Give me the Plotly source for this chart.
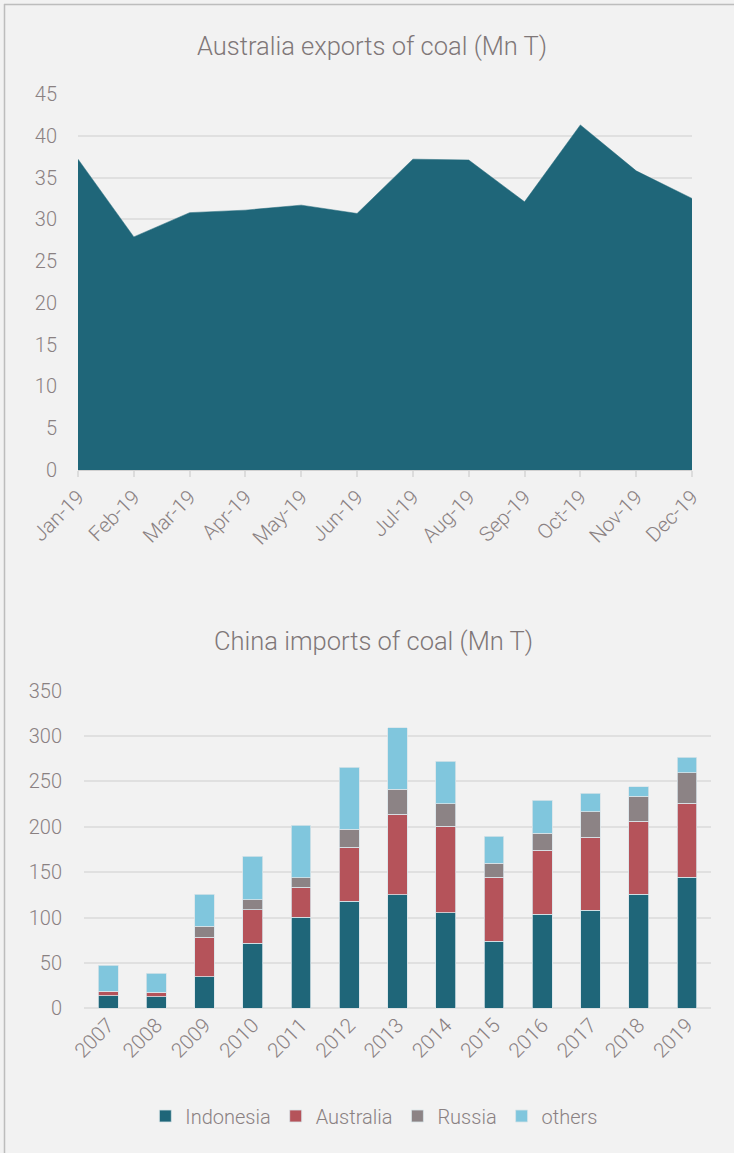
import plotly.graph_objects as go

# ---- data ----
months = ["Jan-19", "Feb-19", "Mar-19", "Apr-19", "May-19", "Jun-19",
          "Jul-19", "Aug-19", "Sep-19", "Oct-19", "Nov-19", "Dec-19"]
aus_exports = [37.2, 27.9, 30.8, 31.1, 31.7, 30.7, 37.2, 37.1, 32.1, 41.3, 35.8, 32.5]

years = ["2007", "2008", "2009", "2010", "2011", "2012", "2013",
         "2014", "2015", "2016", "2017", "2018", "2019"]
indonesia = [13.9, 12.8, 34.8, 71.6, 100.2, 117.9, 125.2, 105.3, 73.8, 103.5, 108.3, 125.6, 144.3]
australia = [4.4, 4.4, 43.7, 37.1, 33.1, 59.5, 88.5, 95.2, 70.5, 70.6, 80.1, 80.4, 81.5]
russia = [0.5, 0.5, 12.2, 11.0, 10.6, 20.1, 27.6, 24.9, 15.8, 18.7, 28.2, 27.5, 33.7]
others = [28.9, 20.9, 34.9, 47.7, 57.7, 68.3, 67.8, 46.7, 29.7, 36.3, 20.2, 10.6, 17.3]

series_names = ["Indonesia", "Australia", "Russia", "others"]
series_colors = ["#1f6679", "#b5535a", "#8c8385", "#80c6dd"]

W, H = 734, 1153
BG = "#f2f2f2"
TXT = "#8a8182"
GRID = "#e0e0e0"
FONT = "Roboto"
WT = 300


def px_x(p):
    return p / W


def px_y(p):
    return 1 - p / H


fig = go.Figure()

fig.add_trace(go.Scatter(
    x=months, y=aus_exports, mode="lines", fill="tozeroy",
    line=dict(color="#1f6679", width=0.5), fillcolor="#1f6679",
    showlegend=False, xaxis="x", yaxis="y", hoverinfo="x+y"))

for name, vals, col in zip(series_names, [indonesia, australia, russia, others], series_colors):
    fig.add_trace(go.Bar(
        x=years, y=vals, name=name, marker=dict(color=col, line=dict(color="#d8e4e8", width=0.8)),
        xaxis="x2", yaxis="y2"))

tickf_y = dict(size=20, color=TXT, family=FONT, weight=WT)
tickf_x = dict(size=20.5, color=TXT, family=FONT, weight=WT)

fig.update_layout(
    width=W, height=H,
    margin=dict(l=0, r=0, t=0, b=0),
    paper_bgcolor=BG, plot_bgcolor=BG,
    font=dict(family=FONT, color=TXT, size=17, weight=WT),
    barmode="stack", bargap=0.59,
    xaxis=dict(domain=[px_x(78), px_x(692)], range=[0, 11], type="category",
               showgrid=False, zeroline=False, showline=True, linecolor="#d0d0d0", linewidth=1,
               ticks="outside", ticklen=6, tickcolor="#dcdcdc", tickwidth=1.5,
               tickangle=-45, tickfont=tickf_x, anchor="y", automargin=False),
    yaxis=dict(domain=[px_y(470), px_y(94)], range=[0, 45], dtick=5,
               showgrid=True, gridcolor=GRID, gridwidth=1.5, zeroline=False,
               showline=False, ticks="", tickfont=tickf_y,
               ticklabelstandoff=20, anchor="x", automargin=False),
    xaxis2=dict(domain=[px_x(84), px_x(711)], type="category",
                showgrid=False, zeroline=False, showline=False, ticks="",
                tickangle=-45, tickfont=tickf_x, anchor="y2", automargin=False),
    yaxis2=dict(domain=[px_y(1008.3), px_y(690.7)], range=[0, 350], dtick=50,
                showgrid=True, gridcolor=GRID, gridwidth=1.5, zeroline=True,
                zerolinecolor=GRID, zerolinewidth=1.5,
                showline=False, ticks="", tickfont=tickf_y,
                ticklabelstandoff=21, anchor="x2", automargin=False),
    legend=dict(orientation="h", x=0.51, xanchor="center", y=px_y(1116), yanchor="middle",
                font=dict(size=20, color=TXT, family=FONT, weight=WT), bgcolor="rgba(0,0,0,0)",
                itemwidth=30, traceorder="normal"),
    annotations=[
        dict(text="Australia exports of coal (Mn T)", x=px_x(372), y=px_y(46),
             xref="paper", yref="paper", showarrow=False, xanchor="center", yanchor="middle",
             font=dict(size=25.5, color="#7f7778", family=FONT, weight=WT)),
        dict(text="China imports of coal (Mn T)", x=px_x(373), y=px_y(641),
             xref="paper", yref="paper", showarrow=False, xanchor="center", yanchor="middle",
             font=dict(size=25.5, color="#7f7778", family=FONT, weight=WT)),
    ],
    shapes=[
        dict(type="line", xref="paper", yref="paper", x0=px_x(4), x1=1, y0=px_y(4.5), y1=px_y(4.5),
             line=dict(color="#bdbdbd", width=1.5)),
        dict(type="line", xref="paper", yref="paper", x0=px_x(4.5), x1=px_x(4.5), y0=0, y1=px_y(4),
             line=dict(color="#bdbdbd", width=1.5)),
    ],
)

fig.write_html("out.html")
